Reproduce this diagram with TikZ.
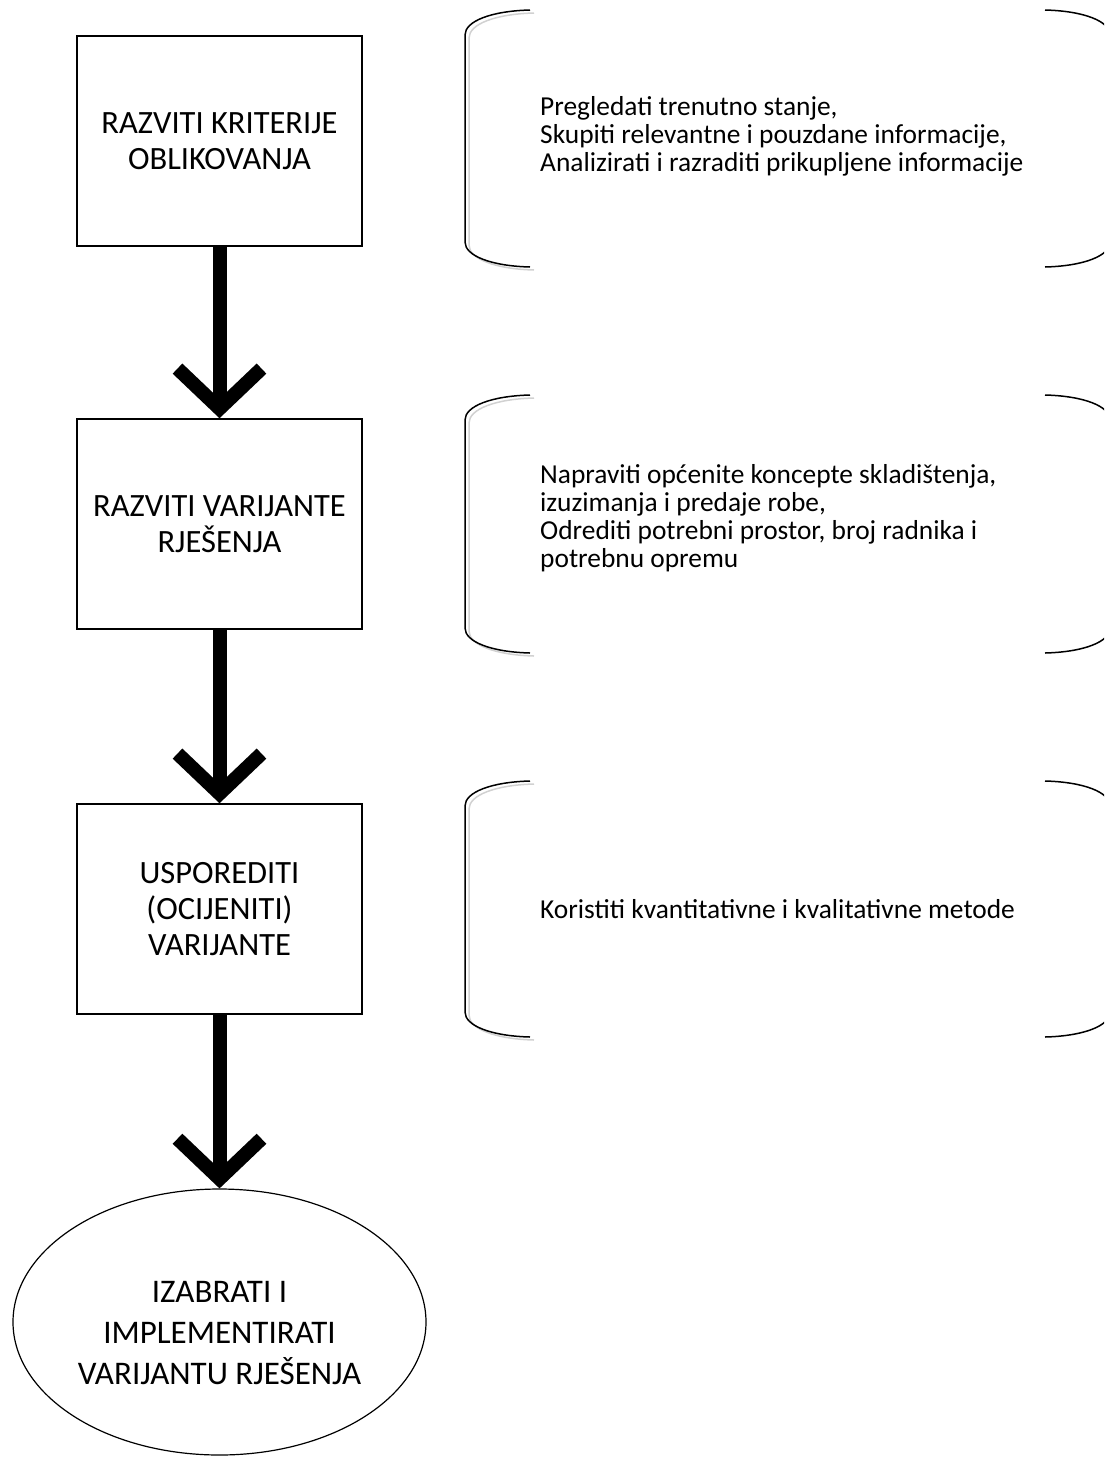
\documentclass[tikz,border=0pt]{standalone}
\usepackage{fontspec}
\setmainfont{Carlito}
\usetikzlibrary{arrows.meta}
\usetikzlibrary{shapes.geometric}
\usetikzlibrary{math}

\tikzset{
  stepbox/.style={draw, line width=1.5pt, minimum width=285pt, minimum height=210pt,
    align=center, font=\fontsize{32.5}{36}\selectfont},
  endellipse/.style={draw, ellipse, line width=1.2pt, minimum width=413pt, minimum height=266pt,
    inner sep=0pt, align=center, font=\fontsize{33}{41}\selectfont},
  flow/.style={line width=14pt, -{Straight Barb[length=40pt,width=84pt]}},
  note/.style={anchor=west, align=left, inner sep=0pt, font=\fontsize{27.4}{28}\selectfont},
  brace/.style={line width=1.5pt},
  braceshadow/.style={line width=1.5pt, black!18},
}

\begin{document}
\begin{tikzpicture}[x=1pt,y=-1pt]

  \tikzmath{
    \bl = 465;  % x of left bracket
    \br = 1110; % x of right bracket
    \bw = 65;   % width of bracket curl
    \bh = 25;   % height of bracket curl
  }

  \useasboundingbox (0,0) rectangle (1104,1457);
  \clip (0,0) rectangle (1104,1457);

  % steps
  \node[stepbox] (r1) at (219.5,141) {RAZVITI KRITERIJE\\OBLIKOVANJA};
  \node[stepbox] (r2) at (219.5,524) {RAZVITI VARIJANTE\\RJEŠENJA};
  \node[stepbox] (r3) at (219.5,909) {USPOREDITI\\(OCIJENITI)\\VARIJANTE};
  \node[endellipse] (e) at (219.5,1322) {\rule{0pt}{43pt}IZABRATI I\\IMPLEMENTIRATI\\VARIJANTU RJEŠENJA};

  % arrows between steps
  \draw[flow] (r1) -- (r2);
  \draw[flow] (r2) -- (r3);
  \draw[flow] (r3) -- (e);

  % brackets round the notes
  \foreach \tp/\bt in {10/267, 395/653, 781/1037} {
    \draw[braceshadow, shift={(4,3)}] (\bl+\bw,\tp) .. controls (\bl+0.4*\bw,\tp+1) and (\bl,\tp+0.45*\bh) .. (\bl,\tp+\bh)
      -- (\bl,\bt-\bh) .. controls (\bl,\bt-0.45*\bh) and (\bl+0.4*\bw,\bt-1) .. (\bl+\bw,\bt);
    \draw[brace] (\bl+\bw,\tp) .. controls (\bl+0.4*\bw,\tp+1) and (\bl,\tp+0.45*\bh) .. (\bl,\tp+\bh)
      -- (\bl,\bt-\bh) .. controls (\bl,\bt-0.45*\bh) and (\bl+0.4*\bw,\bt-1) .. (\bl+\bw,\bt);
    \draw[brace] (\br-\bw,\tp) .. controls (\br-0.4*\bw,\tp+1) and (\br,\tp+0.45*\bh) .. (\br,\tp+\bh)
      -- (\br,\bt-\bh) .. controls (\br,\bt-0.45*\bh) and (\br-0.4*\bw,\bt-1) .. (\br-\bw,\bt);
  }

  % notes
  \node[note] (n1) at (540,136) {Pregledati trenutno stanje,\\Skupiti relevantne i pouzdane informacije,\\Analizirati i razraditi prikupljene informacije};
  \node[note] (n2) at (540,518) {Napraviti općenite koncepte skladištenja,\\izuzimanja i predaje robe,\\Odrediti potrebni prostor, broj radnika i\\potrebnu opremu};
  \node[note] (n3) at (540,909) {Koristiti kvantitativne i kvalitativne metode};

\end{tikzpicture}
\end{document}
